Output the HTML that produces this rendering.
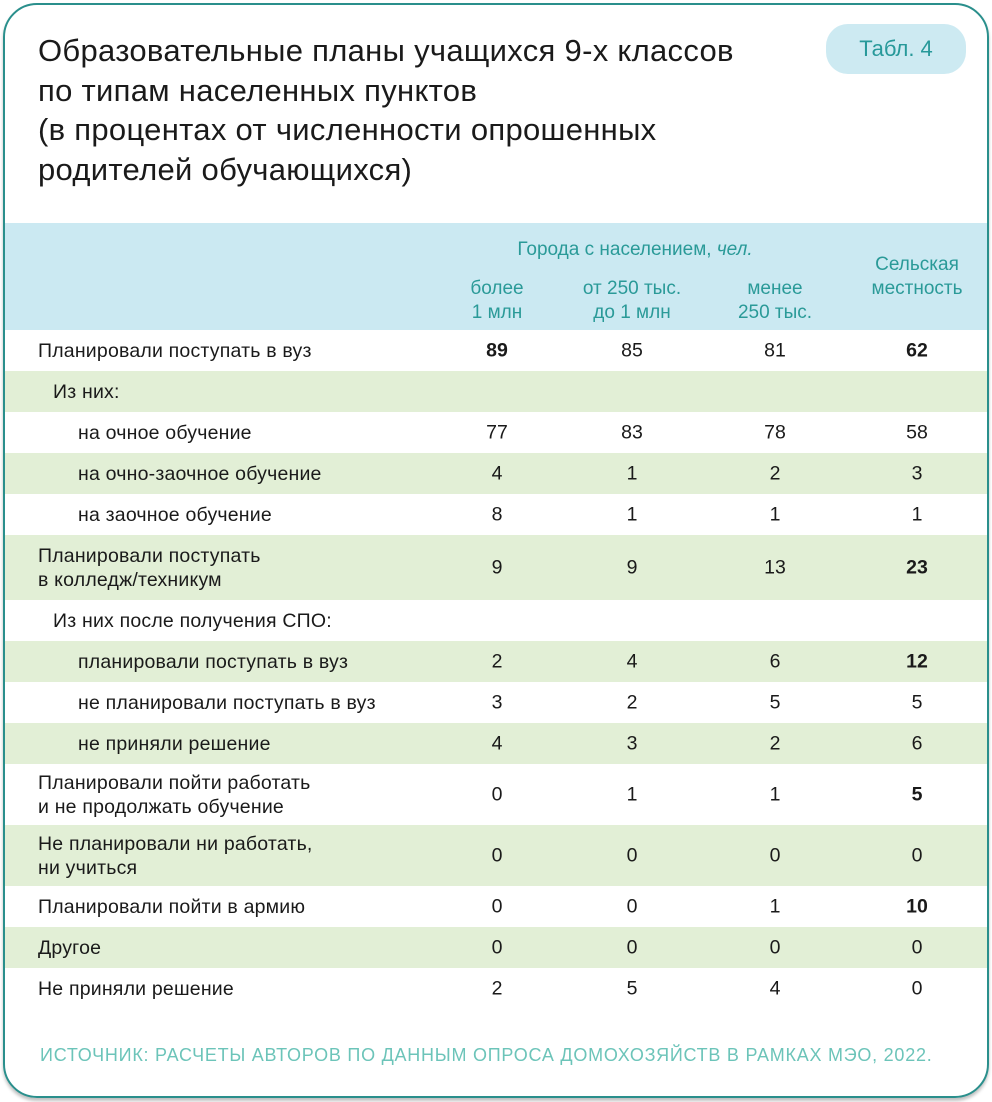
<!DOCTYPE html>
<html><head><meta charset="utf-8"><style>
body{margin:0;width:992px;height:1102px;background:#fff;font-family:"Liberation Sans",sans-serif;position:relative;overflow:hidden}
.frame{position:absolute;left:3px;top:3px;width:982px;height:1091px;border:2px solid #2a8f8c;border-radius:34px;box-shadow:0 3px 3px rgba(0,0,0,.25);overflow:hidden}
.title{position:absolute;left:38px;top:31px;font-size:31px;line-height:39.5px;color:#1a1a1a;letter-spacing:0.3px}
.pill{position:absolute;left:826px;top:24px;width:140px;height:50px;border-radius:22px;background:#cdeaf2;color:#27999a;font-size:22px;line-height:50px;text-align:center}
.row{position:absolute;left:5px;width:982px;font-size:19.5px;color:#1a1a1a}
.row .l{position:absolute;left:33px;top:50%;transform:translateY(-50%);line-height:24px;letter-spacing:0.2px}
.row .v{position:absolute;top:50%;transform:translateY(-50%);width:80px;margin-left:-40px;text-align:center}
.g{background:#e2efd6}
.hd{position:absolute;left:5px;top:223px;width:982px;height:107px;background:#cbe9f2;color:#2a9a98;font-size:19px}
.hd div{position:absolute;text-align:center;line-height:24px}
.src{position:absolute;left:40px;top:1045px;font-size:18px;color:#6cc4b9;letter-spacing:0.75px}
b{font-weight:bold}
</style></head><body>
<div class="frame"></div>
<div class="title">Образовательные планы учащихся 9-х классов<br>по типам населенных пунктов<br>(в процентах от численности опрошенных<br>родителей обучающихся)</div>
<div class="pill">Табл. 4</div>
<div class="hd">
<div style="left:440px;width:380px;top:15px">Города с населением, <i>чел.</i></div>
<div style="left:432px;width:120px;top:54px">более<br>1 млн</div>
<div style="left:552px;width:150px;top:54px">от 250 тыс.<br>до 1 млн</div>
<div style="left:700px;width:140px;top:54px">менее<br>250 тыс.</div>
<div style="left:842px;width:140px;top:30px">Сельская<br>местность</div>
</div>

<div class="row" style="top:330px;height:41px"><span class="l">Планировали поступать в вуз</span><span class="v" style="left:492px"><b>89</b></span><span class="v" style="left:627px">85</span><span class="v" style="left:770px">81</span><span class="v" style="left:912px"><b>62</b></span></div>
<div class="row g" style="top:371px;height:41px"><span class="l" style="left:48px">Из них:</span></div>
<div class="row" style="top:412px;height:41px"><span class="l" style="left:73px">на очное обучение</span><span class="v" style="left:492px">77</span><span class="v" style="left:627px">83</span><span class="v" style="left:770px">78</span><span class="v" style="left:912px">58</span></div>
<div class="row g" style="top:453px;height:41px"><span class="l" style="left:73px">на очно-заочное обучение</span><span class="v" style="left:492px">4</span><span class="v" style="left:627px">1</span><span class="v" style="left:770px">2</span><span class="v" style="left:912px">3</span></div>
<div class="row" style="top:494px;height:41px"><span class="l" style="left:73px">на заочное обучение</span><span class="v" style="left:492px">8</span><span class="v" style="left:627px">1</span><span class="v" style="left:770px">1</span><span class="v" style="left:912px">1</span></div>
<div class="row g" style="top:535px;height:65px"><span class="l">Планировали поступать<br>в колледж/техникум</span><span class="v" style="left:492px">9</span><span class="v" style="left:627px">9</span><span class="v" style="left:770px">13</span><span class="v" style="left:912px"><b>23</b></span></div>
<div class="row" style="top:600px;height:41px"><span class="l" style="left:48px">Из них после получения СПО:</span></div>
<div class="row g" style="top:641px;height:41px"><span class="l" style="left:73px">планировали поступать в вуз</span><span class="v" style="left:492px">2</span><span class="v" style="left:627px">4</span><span class="v" style="left:770px">6</span><span class="v" style="left:912px"><b>12</b></span></div>
<div class="row" style="top:682px;height:41px"><span class="l" style="left:73px">не планировали поступать в вуз</span><span class="v" style="left:492px">3</span><span class="v" style="left:627px">2</span><span class="v" style="left:770px">5</span><span class="v" style="left:912px">5</span></div>
<div class="row g" style="top:723px;height:41px"><span class="l" style="left:73px">не приняли решение</span><span class="v" style="left:492px">4</span><span class="v" style="left:627px">3</span><span class="v" style="left:770px">2</span><span class="v" style="left:912px">6</span></div>
<div class="row" style="top:764px;height:61px"><span class="l">Планировали пойти работать<br>и не продолжать обучение</span><span class="v" style="left:492px">0</span><span class="v" style="left:627px">1</span><span class="v" style="left:770px">1</span><span class="v" style="left:912px"><b>5</b></span></div>
<div class="row g" style="top:825px;height:61px"><span class="l">Не планировали ни работать,<br>ни учиться</span><span class="v" style="left:492px">0</span><span class="v" style="left:627px">0</span><span class="v" style="left:770px">0</span><span class="v" style="left:912px">0</span></div>
<div class="row" style="top:886px;height:41px"><span class="l">Планировали пойти в армию</span><span class="v" style="left:492px">0</span><span class="v" style="left:627px">0</span><span class="v" style="left:770px">1</span><span class="v" style="left:912px"><b>10</b></span></div>
<div class="row g" style="top:927px;height:41px"><span class="l">Другое</span><span class="v" style="left:492px">0</span><span class="v" style="left:627px">0</span><span class="v" style="left:770px">0</span><span class="v" style="left:912px">0</span></div>
<div class="row" style="top:968px;height:41px"><span class="l">Не приняли решение</span><span class="v" style="left:492px">2</span><span class="v" style="left:627px">5</span><span class="v" style="left:770px">4</span><span class="v" style="left:912px">0</span></div>
<div class="src">ИСТОЧНИК: РАСЧЕТЫ АВТОРОВ ПО ДАННЫМ ОПРОСА ДОМОХОЗЯЙСТВ В РАМКАХ МЭО, 2022.</div>
</body></html>
